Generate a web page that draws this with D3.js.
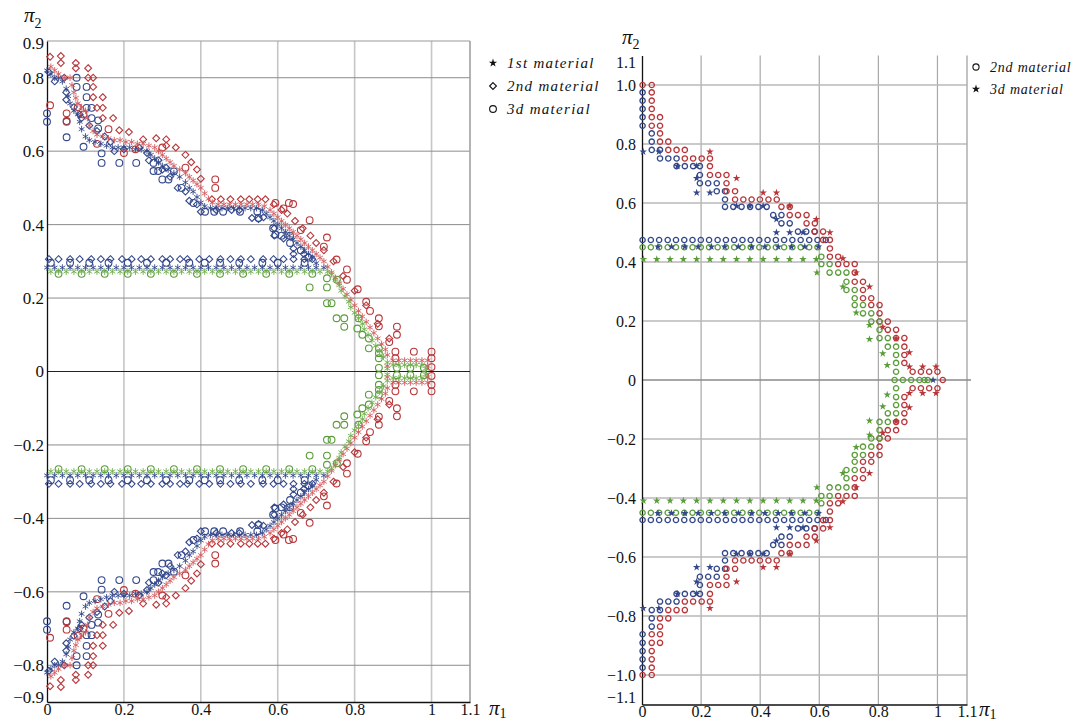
<!DOCTYPE html>
<html lang="en">
<head>
<meta charset="UTF-8">
<title>π1 – π2 domains, three materials</title>
<script src="https://d3js.org/d3.v7.min.js"></script>
<style>
  body { margin: 0; background: #fff; }
  text { font-family: "Liberation Serif", "DejaVu Serif", serif; fill: #111; }
</style>
</head>
<body>
<div id="chart"></div>
<script>
// ---------- tick labels ----------
const xTicks = [0, 0.2, 0.4, 0.6, 0.8, 1, 1.1];
const xLabels = ["0", "0.2", "0.4", "0.6", "0.8", "1", "1.1"];
const leftYTicks = [-0.9, -0.8, -0.6, -0.4, -0.2, 0, 0.2, 0.4, 0.6, 0.8, 0.9];
const leftYLabels = ["−0.9", "−0.8", "−0.6", "−0.4", "−0.2", "0", "0.2", "0.4", "0.6", "0.8", "0.9"];
const rightYTicks = [-1.1, -1, -0.8, -0.6, -0.4, -0.2, 0, 0.2, 0.4, 0.6, 0.8, 1, 1.1];
const rightYLabels = ["−1.1", "−1.0", "−0.8", "−0.6", "−0.4", "−0.2", "0", "0.2", "0.4", "0.6", "0.8", "1.0", "1.1"];

const leftLegend = ["1st material", "2nd material", "3d material"];
const rightLegend = ["2nd material", "3d material"];

// ---------- left panel values (π1, π2) ----------
const row = (y, xs) => xs.map(x => [x, y]);

const leftStarRowX = [0, 0.02, 0.04, 0.06, 0.08, 0.1, 0.12, 0.14, 0.16, 0.18, 0.2, 0.22, 0.24, 0.26, 0.28, 0.3, 0.32, 0.34, 0.36, 0.38, 0.4, 0.42, 0.44, 0.46, 0.48, 0.5, 0.52, 0.54, 0.56, 0.58, 0.6, 0.62, 0.64, 0.66, 0.68, 0.7, 0.72];
const leftGreenStarRowX = [0.01, 0.03, 0.05, 0.07, 0.09, 0.11, 0.13, 0.15, 0.17, 0.19, 0.21, 0.23, 0.25, 0.27, 0.29, 0.31, 0.33, 0.35, 0.37, 0.39, 0.41, 0.43, 0.45, 0.47, 0.49, 0.51, 0.53, 0.55, 0.57, 0.59, 0.61, 0.63, 0.65, 0.67, 0.69, 0.71, 0.73];
const leftDiamondRowX = [0.005, 0.03, 0.06, 0.085, 0.115, 0.14, 0.165, 0.195, 0.22, 0.245, 0.27, 0.3, 0.32, 0.346, 0.365, 0.396, 0.422, 0.451, 0.477, 0.504, 0.53, 0.562, 0.589, 0.615, 0.641, 0.669, 0.69];
const leftCircleRowX = [0.01, 0.06, 0.11, 0.16, 0.21, 0.26, 0.31, 0.37, 0.41, 0.45, 0.5, 0.56, 0.6, 0.67];
const leftGreenCircleRowX = [0.03, 0.09, 0.15, 0.21, 0.27, 0.33, 0.39, 0.45, 0.51, 0.57, 0.63, 0.69];
const leftRedStarZeroX = [0.9, 0.915, 0.93, 0.945, 0.96, 0.975, 0.99];
const leftGreenStarZeroX = [0.9, 0.915, 0.93, 0.945, 0.96, 0.975];
const leftGreenCircleZeroX = [0.863, 0.91, 0.945, 0.98];

const leftBlueStarUp = [[0,0.82],[0.01,0.81],[0.02,0.8],[0.03,0.8],[0.04,0.79],[0.05,0.77],[0.055,0.75],[0.06,0.73],[0.07,0.71],[0.08,0.7],[0.085,0.68],[0.09,0.66],[0.1,0.64],[0.11,0.63],[0.125,0.625],[0.14,0.62],[0.155,0.615],[0.17,0.61],[0.185,0.61],[0.2,0.61],[0.215,0.61],[0.23,0.605],[0.245,0.605],[0.26,0.6],[0.27,0.59],[0.28,0.58],[0.29,0.57],[0.3,0.56],[0.315,0.55],[0.33,0.54],[0.345,0.53],[0.36,0.515],[0.37,0.5],[0.38,0.49],[0.39,0.475],[0.4,0.46],[0.41,0.45],[0.425,0.445],[0.44,0.445],[0.455,0.445],[0.47,0.445],[0.485,0.445],[0.5,0.445],[0.515,0.445],[0.53,0.445],[0.545,0.445],[0.56,0.44],[0.57,0.43],[0.58,0.42],[0.59,0.41],[0.6,0.4],[0.61,0.39],[0.62,0.38],[0.63,0.37],[0.64,0.36],[0.65,0.35],[0.66,0.34],[0.67,0.33],[0.68,0.32],[0.69,0.31],[0.7,0.295]];
const leftBlueStarDown = [[0,-0.82],[0.01,-0.81],[0.02,-0.8],[0.03,-0.8],[0.04,-0.79],[0.05,-0.77],[0.055,-0.75],[0.06,-0.73],[0.07,-0.71],[0.08,-0.7],[0.085,-0.68],[0.09,-0.66],[0.1,-0.64],[0.11,-0.63],[0.125,-0.625],[0.14,-0.62],[0.155,-0.615],[0.17,-0.61],[0.185,-0.61],[0.2,-0.61],[0.215,-0.61],[0.23,-0.605],[0.245,-0.605],[0.26,-0.6],[0.27,-0.59],[0.28,-0.58],[0.29,-0.57],[0.3,-0.56],[0.315,-0.55],[0.33,-0.54],[0.345,-0.53],[0.36,-0.515],[0.37,-0.5],[0.38,-0.49],[0.39,-0.475],[0.4,-0.46],[0.41,-0.45],[0.425,-0.445],[0.44,-0.445],[0.455,-0.445],[0.47,-0.445],[0.485,-0.445],[0.5,-0.445],[0.515,-0.445],[0.53,-0.445],[0.545,-0.445],[0.56,-0.44],[0.57,-0.43],[0.58,-0.42],[0.59,-0.41],[0.6,-0.4],[0.61,-0.39],[0.62,-0.38],[0.63,-0.37],[0.64,-0.36],[0.65,-0.35],[0.66,-0.34],[0.67,-0.33],[0.68,-0.32],[0.69,-0.31],[0.7,-0.295]];

const leftRedStarUp = [[0.01,0.83],[0.02,0.82],[0.03,0.81],[0.045,0.8],[0.06,0.8],[0.065,0.78],[0.07,0.76],[0.075,0.745],[0.08,0.73],[0.09,0.72],[0.1,0.71],[0.105,0.69],[0.11,0.67],[0.12,0.655],[0.13,0.645],[0.145,0.64],[0.16,0.635],[0.175,0.63],[0.19,0.63],[0.205,0.625],[0.22,0.625],[0.235,0.62],[0.25,0.62],[0.265,0.615],[0.28,0.61],[0.29,0.6],[0.3,0.59],[0.31,0.58],[0.32,0.57],[0.33,0.56],[0.345,0.55],[0.36,0.54],[0.37,0.53],[0.38,0.52],[0.39,0.51],[0.4,0.5],[0.41,0.485],[0.42,0.47],[0.43,0.46],[0.445,0.455],[0.46,0.455],[0.475,0.455],[0.49,0.455],[0.505,0.455],[0.52,0.455],[0.535,0.455],[0.55,0.455],[0.565,0.45],[0.58,0.44],[0.59,0.43],[0.6,0.42],[0.61,0.41],[0.62,0.4],[0.63,0.39],[0.64,0.38],[0.65,0.37],[0.66,0.36],[0.67,0.35],[0.68,0.34],[0.69,0.33],[0.7,0.32],[0.71,0.31],[0.72,0.3],[0.73,0.285],[0.74,0.27],[0.75,0.255],[0.76,0.24],[0.77,0.225],[0.78,0.21],[0.79,0.195],[0.8,0.18],[0.81,0.165],[0.82,0.15],[0.83,0.135],[0.84,0.12],[0.85,0.105],[0.86,0.09],[0.87,0.075],[0.88,0.06],[0.885,0.045],[0.885,0.015],[0.99,0.015]];
const leftRedStarDown = [[0.01,-0.83],[0.02,-0.82],[0.03,-0.81],[0.045,-0.8],[0.06,-0.8],[0.065,-0.78],[0.07,-0.76],[0.075,-0.745],[0.08,-0.73],[0.09,-0.72],[0.1,-0.71],[0.105,-0.69],[0.11,-0.67],[0.12,-0.655],[0.13,-0.645],[0.145,-0.64],[0.16,-0.635],[0.175,-0.63],[0.19,-0.63],[0.205,-0.625],[0.22,-0.625],[0.235,-0.62],[0.25,-0.62],[0.265,-0.615],[0.28,-0.61],[0.29,-0.6],[0.3,-0.59],[0.31,-0.58],[0.32,-0.57],[0.33,-0.56],[0.345,-0.55],[0.36,-0.54],[0.37,-0.53],[0.38,-0.52],[0.39,-0.51],[0.4,-0.5],[0.41,-0.485],[0.42,-0.47],[0.43,-0.46],[0.445,-0.455],[0.46,-0.455],[0.475,-0.455],[0.49,-0.455],[0.505,-0.455],[0.52,-0.455],[0.535,-0.455],[0.55,-0.455],[0.565,-0.45],[0.58,-0.44],[0.59,-0.43],[0.6,-0.42],[0.61,-0.41],[0.62,-0.4],[0.63,-0.39],[0.64,-0.38],[0.65,-0.37],[0.66,-0.36],[0.67,-0.35],[0.68,-0.34],[0.69,-0.33],[0.7,-0.32],[0.71,-0.31],[0.72,-0.3],[0.73,-0.285],[0.74,-0.27],[0.75,-0.255],[0.76,-0.24],[0.77,-0.225],[0.78,-0.21],[0.79,-0.195],[0.8,-0.18],[0.81,-0.165],[0.82,-0.15],[0.83,-0.135],[0.84,-0.12],[0.85,-0.105],[0.86,-0.09],[0.87,-0.075],[0.88,-0.06],[0.885,-0.045],[0.885,-0.015],[0.99,-0.015]];

const leftGreenStarUp = [[0.74,0.265],[0.75,0.25],[0.76,0.235],[0.765,0.22],[0.775,0.205],[0.785,0.19],[0.79,0.175],[0.8,0.16],[0.81,0.145],[0.82,0.13],[0.825,0.115],[0.835,0.1],[0.845,0.085],[0.855,0.07],[0.865,0.055],[0.875,0.04],[0.885,0.025],[0.885,0.008],[0.985,0.008]];
const leftGreenStarDown = [[0.74,-0.265],[0.75,-0.25],[0.76,-0.235],[0.765,-0.22],[0.775,-0.205],[0.785,-0.19],[0.79,-0.175],[0.8,-0.16],[0.81,-0.145],[0.82,-0.13],[0.825,-0.115],[0.835,-0.1],[0.845,-0.085],[0.855,-0.07],[0.865,-0.055],[0.875,-0.04],[0.885,-0.025],[0.885,-0.008],[0.985,-0.008]];

const leftBlueDiamondUp = [[0.005,0.815],[0.02,0.79],[0.045,0.8],[0.05,0.76],[0.05,0.74],[0.07,0.72],[0.085,0.7],[0.09,0.69],[0.11,0.67],[0.13,0.655],[0.15,0.64],[0.165,0.625],[0.175,0.6],[0.2,0.605],[0.24,0.61],[0.26,0.595],[0.265,0.575],[0.29,0.575],[0.3,0.55],[0.31,0.555],[0.32,0.53],[0.34,0.5],[0.36,0.49],[0.37,0.465],[0.39,0.455],[0.4,0.435],[0.44,0.44],[0.48,0.44],[0.5,0.44],[0.533,0.418],[0.55,0.415],[0.563,0.42],[0.591,0.39],[0.591,0.37],[0.615,0.362],[0.641,0.335],[0.641,0.32],[0.668,0.32]];
const leftBlueDiamondDown = [[0.005,-0.815],[0.02,-0.79],[0.045,-0.8],[0.05,-0.76],[0.05,-0.74],[0.07,-0.72],[0.085,-0.7],[0.09,-0.69],[0.11,-0.67],[0.13,-0.655],[0.15,-0.64],[0.165,-0.625],[0.175,-0.6],[0.2,-0.605],[0.24,-0.61],[0.26,-0.595],[0.265,-0.575],[0.29,-0.575],[0.3,-0.55],[0.31,-0.555],[0.32,-0.53],[0.34,-0.5],[0.36,-0.49],[0.37,-0.465],[0.39,-0.455],[0.4,-0.435],[0.44,-0.44],[0.48,-0.44],[0.5,-0.44],[0.533,-0.418],[0.55,-0.415],[0.563,-0.42],[0.591,-0.39],[0.591,-0.37],[0.615,-0.362],[0.641,-0.335],[0.641,-0.32],[0.668,-0.32]];

const leftBlueCircleUp = [[0,0.703],[0,0.68],[0.051,0.682],[0.051,0.638],[0.077,0.8],[0.077,0.775],[0.103,0.775],[0.103,0.747],[0.103,0.718],[0.116,0.718],[0.116,0.69],[0.133,0.684],[0.133,0.662],[0.095,0.612],[0.142,0.594],[0.142,0.568],[0.188,0.568],[0.232,0.568],[0.277,0.568],[0.277,0.546],[0.289,0.546],[0.3,0.523],[0.316,0.523],[0.33,0.545],[0.35,0.5],[0.381,0.459],[0.411,0.435],[0.435,0.435],[0.458,0.435],[0.502,0.435],[0.547,0.435],[0.55,0.418],[0.588,0.39],[0.594,0.373],[0.61,0.37],[0.632,0.37],[0.632,0.35],[0.66,0.33],[0.68,0.31]];
const leftBlueCircleDown = [[0,-0.703],[0,-0.68],[0.051,-0.682],[0.051,-0.638],[0.077,-0.8],[0.077,-0.775],[0.103,-0.775],[0.103,-0.747],[0.103,-0.718],[0.116,-0.718],[0.116,-0.69],[0.133,-0.684],[0.133,-0.662],[0.095,-0.612],[0.142,-0.594],[0.142,-0.568],[0.188,-0.568],[0.232,-0.568],[0.277,-0.568],[0.277,-0.546],[0.289,-0.546],[0.3,-0.523],[0.316,-0.523],[0.33,-0.545],[0.35,-0.5],[0.381,-0.459],[0.411,-0.435],[0.435,-0.435],[0.458,-0.435],[0.502,-0.435],[0.547,-0.435],[0.55,-0.418],[0.588,-0.39],[0.594,-0.373],[0.61,-0.37],[0.632,-0.37],[0.632,-0.35],[0.66,-0.33],[0.68,-0.31]];

const leftRedDiamondUp = [[0.008,0.857],[0.036,0.859],[0.036,0.84],[0.075,0.84],[0.075,0.826],[0.107,0.826],[0.107,0.8],[0.12,0.8],[0.12,0.775],[0.12,0.747],[0.145,0.747],[0.145,0.718],[0.13,0.718],[0.145,0.69],[0.172,0.69],[0.188,0.657],[0.213,0.652],[0.25,0.632],[0.284,0.635],[0.31,0.632],[0.31,0.615],[0.335,0.61],[0.36,0.59],[0.375,0.57],[0.39,0.55],[0.4,0.525],[0.429,0.469],[0.452,0.469],[0.477,0.469],[0.504,0.469],[0.526,0.469],[0.548,0.469],[0.568,0.469],[0.59,0.455],[0.61,0.44],[0.625,0.43],[0.645,0.41],[0.665,0.39],[0.685,0.37],[0.7,0.35],[0.72,0.33],[0.745,0.3],[0.77,0.26],[0.8,0.22],[0.83,0.18],[0.86,0.13],[0.89,0.09]];
const leftRedDiamondDown = [[0.008,-0.857],[0.036,-0.859],[0.036,-0.84],[0.075,-0.84],[0.075,-0.826],[0.107,-0.826],[0.107,-0.8],[0.12,-0.8],[0.12,-0.775],[0.12,-0.747],[0.145,-0.747],[0.145,-0.718],[0.13,-0.718],[0.145,-0.69],[0.172,-0.69],[0.188,-0.657],[0.213,-0.652],[0.25,-0.632],[0.284,-0.635],[0.31,-0.632],[0.31,-0.615],[0.335,-0.61],[0.36,-0.59],[0.375,-0.57],[0.39,-0.55],[0.4,-0.525],[0.429,-0.469],[0.452,-0.469],[0.477,-0.469],[0.504,-0.469],[0.526,-0.469],[0.548,-0.469],[0.568,-0.469],[0.59,-0.455],[0.61,-0.44],[0.625,-0.43],[0.645,-0.41],[0.665,-0.39],[0.685,-0.37],[0.7,-0.35],[0.72,-0.33],[0.745,-0.3],[0.77,-0.26],[0.8,-0.22],[0.83,-0.18],[0.86,-0.13],[0.89,-0.09]];

const leftRedCircleUp = [[0.008,0.725],[0.051,0.703],[0.051,0.68],[0.08,0.72],[0.095,0.7],[0.16,0.66],[0.13,0.62],[0.2,0.595],[0.23,0.605],[0.3,0.61],[0.36,0.555],[0.4375,0.523],[0.4375,0.5],[0.594,0.459],[0.629,0.459],[0.615,0.444],[0.64,0.456],[0.683,0.412],[0.66,0.385],[0.728,0.365],[0.72,0.34],[0.753,0.305],[0.78,0.278],[0.78,0.25],[0.808,0.224],[0.83,0.19],[0.84,0.165],[0.863,0.145],[0.863,0.123],[0.91,0.122],[0.91,0.1],[0.89,0.08],[0.906,0.054],[0.954,0.054],[1.0,0.054],[0.906,0.036],[1.0,0.036],[1.0,0.012]];
const leftRedCircleDown = [[0.008,-0.725],[0.051,-0.703],[0.051,-0.68],[0.08,-0.72],[0.095,-0.7],[0.16,-0.66],[0.13,-0.62],[0.2,-0.595],[0.23,-0.605],[0.3,-0.61],[0.36,-0.555],[0.4375,-0.523],[0.4375,-0.5],[0.594,-0.459],[0.629,-0.459],[0.615,-0.444],[0.64,-0.456],[0.683,-0.412],[0.66,-0.385],[0.728,-0.365],[0.72,-0.34],[0.753,-0.305],[0.78,-0.278],[0.78,-0.25],[0.808,-0.224],[0.83,-0.19],[0.84,-0.165],[0.863,-0.145],[0.863,-0.123],[0.91,-0.122],[0.91,-0.1],[0.89,-0.08],[0.906,-0.054],[0.954,-0.054],[1.0,-0.054],[0.906,-0.036],[1.0,-0.036],[1.0,-0.012]];

const leftGreenCircleUp = [[0.683,0.229],[0.728,0.254],[0.754,0.25],[0.728,0.229],[0.728,0.186],[0.74,0.186],[0.753,0.145],[0.773,0.145],[0.773,0.122],[0.81,0.145],[0.807,0.117],[0.82,0.1],[0.837,0.09],[0.837,0.063],[0.863,0.063],[0.863,0.05],[0.863,0.036]];
const leftGreenCircleDown = [[0.683,-0.229],[0.728,-0.254],[0.754,-0.25],[0.728,-0.229],[0.728,-0.186],[0.74,-0.186],[0.753,-0.145],[0.773,-0.145],[0.773,-0.122],[0.81,-0.145],[0.807,-0.117],[0.82,-0.1],[0.837,-0.09],[0.837,-0.063],[0.863,-0.063],[0.863,-0.05],[0.863,-0.036]];

// ---------- right panel values (π1, π2) ----------
const rightBlueCircleRowX = [0.002, 0.03, 0.058, 0.087, 0.115, 0.143, 0.171, 0.199, 0.227, 0.256, 0.284, 0.312, 0.34, 0.368, 0.397, 0.425, 0.453, 0.481, 0.509, 0.537, 0.566, 0.594, 0.622];
const rightGreenCircleRowX = [0.002, 0.03, 0.058, 0.087, 0.115, 0.143, 0.171, 0.199, 0.227, 0.256, 0.284, 0.312, 0.34, 0.368, 0.397, 0.425, 0.453, 0.481, 0.509, 0.537, 0.566, 0.594];
const rightBlueStarRowX = [0.054, 0.1, 0.145, 0.19, 0.235, 0.28, 0.326, 0.371, 0.416, 0.461, 0.506, 0.551, 0.597];
const rightGreenStarRowX = [0.005, 0.05, 0.095, 0.14, 0.185, 0.23, 0.275, 0.32, 0.365, 0.41, 0.455, 0.5, 0.545, 0.59];
const rightGreenZeroX = [0.855, 0.883, 0.911, 0.939, 0.956, 0.967];

const rightBlueCircleUp = [[0.002,0.975],[0.002,0.947],[0.002,0.919],[0.002,0.891],[0.002,0.862],[0.033,0.836],[0.033,0.808],[0.033,0.78],[0.061,0.78],[0.061,0.751],[0.089,0.751],[0.117,0.751],[0.117,0.725],[0.145,0.725],[0.173,0.725],[0.196,0.725],[0.196,0.695],[0.196,0.667],[0.224,0.667],[0.253,0.667],[0.253,0.64],[0.281,0.64],[0.281,0.612],[0.281,0.587],[0.309,0.587],[0.337,0.587],[0.366,0.587],[0.394,0.587],[0.422,0.587],[0.444,0.559],[0.472,0.559],[0.472,0.531],[0.5,0.531],[0.528,0.503],[0.556,0.503],[0.584,0.503]];
const rightBlueCircleDown = [[0.002,-0.975],[0.002,-0.947],[0.002,-0.919],[0.002,-0.891],[0.002,-0.862],[0.033,-0.836],[0.033,-0.808],[0.033,-0.78],[0.061,-0.78],[0.061,-0.751],[0.089,-0.751],[0.117,-0.751],[0.117,-0.725],[0.145,-0.725],[0.173,-0.725],[0.196,-0.725],[0.196,-0.695],[0.196,-0.667],[0.224,-0.667],[0.253,-0.667],[0.253,-0.64],[0.281,-0.64],[0.281,-0.612],[0.281,-0.587],[0.309,-0.587],[0.337,-0.587],[0.366,-0.587],[0.394,-0.587],[0.422,-0.587],[0.444,-0.559],[0.472,-0.559],[0.472,-0.531],[0.5,-0.531],[0.528,-0.503],[0.556,-0.503],[0.584,-0.503]];

const rightRedCircleUp = [[0.002,1.0],[0.033,1.0],[0.033,0.975],[0.033,0.947],[0.033,0.919],[0.033,0.891],[0.033,0.862],[0.061,0.891],[0.061,0.862],[0.061,0.836],[0.061,0.808],[0.089,0.808],[0.089,0.78],[0.117,0.78],[0.145,0.78],[0.145,0.751],[0.173,0.751],[0.202,0.751],[0.23,0.751],[0.23,0.725],[0.23,0.695],[0.258,0.695],[0.286,0.695],[0.286,0.667],[0.286,0.64],[0.315,0.64],[0.315,0.612],[0.343,0.612],[0.371,0.612],[0.399,0.612],[0.428,0.612],[0.456,0.612],[0.472,0.587],[0.5,0.587],[0.5,0.559],[0.528,0.559],[0.557,0.559],[0.557,0.531],[0.585,0.531],[0.585,0.503],[0.613,0.503],[0.613,0.475],[0.636,0.475],[0.636,0.446],[0.636,0.418],[0.664,0.418],[0.664,0.393],[0.692,0.393],[0.72,0.393],[0.72,0.364],[0.72,0.333],[0.748,0.333],[0.748,0.305],[0.748,0.277],[0.776,0.277],[0.776,0.254],[0.804,0.254],[0.804,0.226],[0.804,0.198],[0.832,0.198],[0.832,0.17],[0.86,0.17],[0.86,0.142],[0.888,0.142],[0.888,0.113],[0.888,0.085],[0.888,0.058],[0.916,0.028],[0.944,0.028],[0.972,0.028],[1.0,0.028],[1.018,0]];
const rightRedCircleDown = [[0.002,-1.0],[0.033,-1.0],[0.033,-0.975],[0.033,-0.947],[0.033,-0.919],[0.033,-0.891],[0.033,-0.862],[0.061,-0.891],[0.061,-0.862],[0.061,-0.836],[0.061,-0.808],[0.089,-0.808],[0.089,-0.78],[0.117,-0.78],[0.145,-0.78],[0.145,-0.751],[0.173,-0.751],[0.202,-0.751],[0.23,-0.751],[0.23,-0.725],[0.23,-0.695],[0.258,-0.695],[0.286,-0.695],[0.286,-0.667],[0.286,-0.64],[0.315,-0.64],[0.315,-0.612],[0.343,-0.612],[0.371,-0.612],[0.399,-0.612],[0.428,-0.612],[0.456,-0.612],[0.472,-0.587],[0.5,-0.587],[0.5,-0.559],[0.528,-0.559],[0.557,-0.559],[0.557,-0.531],[0.585,-0.531],[0.585,-0.503],[0.613,-0.503],[0.613,-0.475],[0.636,-0.475],[0.636,-0.446],[0.636,-0.418],[0.664,-0.418],[0.664,-0.393],[0.692,-0.393],[0.72,-0.393],[0.72,-0.364],[0.72,-0.333],[0.748,-0.333],[0.748,-0.305],[0.748,-0.277],[0.776,-0.277],[0.776,-0.254],[0.804,-0.254],[0.804,-0.226],[0.804,-0.198],[0.832,-0.198],[0.832,-0.17],[0.86,-0.17],[0.86,-0.142],[0.888,-0.142],[0.888,-0.113],[0.888,-0.085],[0.888,-0.058],[0.916,-0.028],[0.944,-0.028],[0.972,-0.028],[1.0,-0.028]];

const rightGreenCircleUp = [[0.607,0.418],[0.607,0.393],[0.635,0.393],[0.635,0.364],[0.664,0.364],[0.692,0.364],[0.692,0.333],[0.692,0.305],[0.72,0.305],[0.72,0.277],[0.72,0.254],[0.748,0.254],[0.748,0.226],[0.776,0.226],[0.776,0.198],[0.804,0.198],[0.804,0.17],[0.804,0.142],[0.832,0.142],[0.832,0.113],[0.86,0.113],[0.86,0.085],[0.86,0.058],[0.86,0.028]];
const rightGreenCircleDown = [[0.607,-0.418],[0.607,-0.393],[0.635,-0.393],[0.635,-0.364],[0.664,-0.364],[0.692,-0.364],[0.692,-0.333],[0.692,-0.305],[0.72,-0.305],[0.72,-0.277],[0.72,-0.254],[0.748,-0.254],[0.748,-0.226],[0.776,-0.226],[0.776,-0.198],[0.804,-0.198],[0.804,-0.17],[0.804,-0.142],[0.832,-0.142],[0.832,-0.113],[0.86,-0.113],[0.86,-0.085],[0.86,-0.058],[0.86,-0.028]];

const rightGreenStarUp = [[0.592,0.364],[0.68,0.316],[0.725,0.228],[0.77,0.186],[0.77,0.138],[0.815,0.09],[0.83,0.05]];
const rightGreenStarDown = [[0.592,-0.364],[0.68,-0.316],[0.725,-0.228],[0.77,-0.186],[0.77,-0.138],[0.815,-0.09],[0.83,-0.05]];
const rightBlueStarUp = [[0.004,0.774],[0.057,0.774],[0.12,0.725],[0.185,0.725],[0.185,0.684],[0.185,0.635],[0.23,0.635],[0.32,0.59],[0.365,0.59],[0.41,0.59],[0.455,0.545],[0.455,0.5],[0.5,0.5],[0.545,0.5],[0.985,0]];
const rightBlueStarDown = [[0.004,-0.774],[0.057,-0.774],[0.12,-0.725],[0.185,-0.725],[0.185,-0.684],[0.185,-0.635],[0.23,-0.635],[0.32,-0.59],[0.365,-0.59],[0.41,-0.59],[0.455,-0.545],[0.455,-0.5],[0.5,-0.5],[0.545,-0.5]];
const rightRedStarUp = [[0.23,0.774],[0.32,0.684],[0.41,0.635],[0.455,0.635],[0.5,0.59],[0.59,0.545],[0.636,0.5],[0.68,0.412],[0.725,0.364],[0.77,0.316],[0.815,0.18],[0.86,0.141],[0.905,0.093],[0.905,0.045],[0.95,0.045],[0.995,0.045]];
const rightRedStarDown = [[0.23,-0.774],[0.32,-0.684],[0.41,-0.635],[0.455,-0.635],[0.5,-0.59],[0.59,-0.545],[0.636,-0.5],[0.68,-0.412],[0.725,-0.364],[0.77,-0.316],[0.815,-0.18],[0.86,-0.141],[0.905,-0.093],[0.905,-0.045],[0.95,-0.045],[0.995,-0.045]];

// ---------- styles ----------
const blue = "#33478a", red = "#b8363a", green = "#5a9c3a";
const redLight = "#d25a5e", greenLight = "#6eae4c";
const serif = '"Liberation Serif", "DejaVu Serif", serif';

const shapes = {
  lStar:    { d: d3.symbol(d3.symbolAsterisk || d3.symbolCross, 30)(), fill: false, sw: 0.9 },
  lDiamond: { d: d3.symbol(d3.symbolDiamond2 || d3.symbolDiamond, 30)(), fill: false, sw: 1.1 },
  lCircle:  { d: d3.symbol(d3.symbolCircle, 36)(), fill: false, sw: 1.1 },
  rCircle:  { d: d3.symbol(d3.symbolCircle, 22)(), fill: false, sw: 1.3 },
  rStar:    { d: d3.symbol(d3.symbolStar, 18)(), fill: true, sw: 0 }
};

const svg = d3.select("#chart").append("svg")
  .attr("width", 1084).attr("height", 722)
  .style("display", "block");

function drawPoints(g, pts, x, y, shape, color) {
  g.append("g").selectAll("path").data(pts).join("path")
    .attr("transform", d => `translate(${x(d[0])},${y(d[1])})`)
    .attr("d", shape.d)
    .attr("fill", shape.fill ? color : "none")
    .attr("stroke", shape.fill ? "none" : color)
    .attr("stroke-width", shape.sw);
}

function piLabel(g, xPos, yPos, sub, subDy) {
  const t = g.append("text").attr("x", xPos).attr("y", yPos)
    .style("font-style", "italic").style("font-size", "21px");
  t.append("tspan").text("π");
  t.append("tspan").attr("dy", subDy).style("font-size", "14px").style("font-style", "normal").text(sub);
}

// nudge the end labels inward, as in the source figure
function styleAxis(a, size, nudge) {
  a.attr("font-family", serif);
  a.select(".domain").attr("stroke", "#111").attr("stroke-width", 1.3);
  a.selectAll("text").style("font-size", size).attr("fill", "#111").style("font-family", serif);
  if (nudge) a.selectAll(".tick").each(function (d) {
    if (nudge[d] !== undefined) d3.select(this).select("text").attr("transform", `translate(0,${nudge[d]})`);
  });
}

// ================= LEFT PANEL =================
const xL = d3.scaleLinear().domain([0, 1.1]).range([47, 470]);
const yL = d3.scaleLinear().domain([-0.9, 0.9]).range([702, 41]);
const gL = svg.append("g");

gL.selectAll("line.v").data([0.2, 0.4, 0.6, 0.8, 1]).join("line")
  .attr("x1", d => xL(d)).attr("x2", d => xL(d)).attr("y1", yL(0.9)).attr("y2", yL(-0.9))
  .attr("stroke", "#c6c6c6").attr("stroke-width", 1.6);
gL.selectAll("line.h").data([-0.8, -0.6, -0.4, -0.2, 0.2, 0.4, 0.6, 0.8]).join("line")
  .attr("x1", xL(0)).attr("x2", xL(1.1)).attr("y1", d => yL(d)).attr("y2", d => yL(d))
  .attr("stroke", "#8c8c8c").attr("stroke-width", 1);
gL.append("line").attr("x1", xL(0)).attr("x2", xL(1.1)).attr("y1", yL(0.9)).attr("y2", yL(0.9))
  .attr("stroke", "#9a9a9a").attr("stroke-width", 1.2);
gL.append("line").attr("x1", xL(1.1)).attr("x2", xL(1.1)).attr("y1", yL(0.9)).attr("y2", yL(-0.9))
  .attr("stroke", "#a0a0a0").attr("stroke-width", 1.6);
gL.append("line").attr("x1", xL(0)).attr("x2", xL(1.1)).attr("y1", yL(0)).attr("y2", yL(0))
  .attr("stroke", "#222").attr("stroke-width", 1.2);

const axL = gL.append("g").attr("transform", `translate(${xL(0)},0)`)
  .call(d3.axisLeft(yL).tickValues(leftYTicks).tickFormat((d, i) => leftYLabels[i]).tickSize(0).tickPadding(3).tickSizeOuter(0));
const axLb = gL.append("g").attr("transform", `translate(0,${yL(-0.9)})`)
  .call(d3.axisBottom(xL).tickValues(xTicks).tickFormat((d, i) => xLabels[i]).tickSize(0).tickPadding(2).tickSizeOuter(0));
styleAxis(axL, "17px", { "0.9": 2, "-0.9": -5 });
styleAxis(axLb, "16px");

const leftSeries = [
  [leftBlueCircleUp.concat(row(0.296, leftCircleRowX)), shapes.lCircle, blue],
  [leftBlueCircleDown.concat(row(-0.296, leftCircleRowX)), shapes.lCircle, blue],
  [leftBlueDiamondUp.concat(row(0.306, leftDiamondRowX)), shapes.lDiamond, blue],
  [leftBlueDiamondDown.concat(row(-0.306, leftDiamondRowX)), shapes.lDiamond, blue],
  [leftRedCircleUp, shapes.lCircle, red],
  [leftRedCircleDown, shapes.lCircle, red],
  [leftRedDiamondUp, shapes.lDiamond, red],
  [leftRedDiamondDown, shapes.lDiamond, red],
  [leftGreenCircleUp.concat(row(0.266, leftGreenCircleRowX), row(0.01, leftGreenCircleZeroX)), shapes.lCircle, green],
  [leftGreenCircleDown.concat(row(-0.266, leftGreenCircleRowX), row(-0.01, leftGreenCircleZeroX)), shapes.lCircle, green],
  [leftBlueStarUp.concat(row(0.283, leftStarRowX)), shapes.lStar, blue],
  [leftBlueStarDown.concat(row(-0.283, leftStarRowX)), shapes.lStar, blue],
  [leftRedStarUp.concat(row(0.03, leftRedStarZeroX)), shapes.lStar, redLight],
  [leftRedStarDown.concat(row(-0.03, leftRedStarZeroX)), shapes.lStar, redLight],
  [leftGreenStarUp.concat(row(0.272, leftGreenStarRowX), row(0.018, leftGreenStarZeroX)), shapes.lStar, greenLight],
  [leftGreenStarDown.concat(row(-0.272, leftGreenStarRowX), row(-0.018, leftGreenStarZeroX)), shapes.lStar, greenLight]
];
leftSeries.forEach(([pts, shape, color]) => drawPoints(gL, pts, xL, yL, shape, color));

piLabel(svg, 24, 22, "2", 6);
piLabel(svg, 489, 715, "1", 3);

const legL = svg.append("g").attr("transform", "translate(493,63)");
[shapes.lStar, shapes.lDiamond, shapes.lCircle].forEach((s, i) => {
  legL.append("path").attr("transform", `translate(0,${i * 23})`)
    .attr("d", i === 0 ? d3.symbol(d3.symbolStar, 22)() : s.d)
    .attr("fill", i === 0 ? "#111" : "none").attr("stroke", i === 0 ? "none" : "#111").attr("stroke-width", 1.1);
  legL.append("text").attr("x", 14).attr("y", i * 23 + 5)
    .style("font-style", "italic").style("font-size", "15px").style("letter-spacing", "1.3px")
    .text(leftLegend[i]);
});

// ================= RIGHT PANEL =================
const xR = d3.scaleLinear().domain([0, 1.1]).range([642, 967]);
const yR = d3.scaleLinear().domain([-1.1, 1.1]).range([704.5, 55.5]);
const gR = svg.append("g");

gR.selectAll("line.v").data([0.2, 0.4, 0.6, 0.8, 1]).join("line")
  .attr("x1", d => xR(d)).attr("x2", d => xR(d)).attr("y1", yR(1.1)).attr("y2", yR(-1.1))
  .attr("stroke", "#a8a8a8").attr("stroke-width", 1.2);
gR.selectAll("line.h").data([-1, -0.8, -0.6, -0.4, -0.2, 0.2, 0.4, 0.6, 0.8, 1]).join("line")
  .attr("x1", xR(0)).attr("x2", xR(1.1)).attr("y1", d => yR(d)).attr("y2", d => yR(d))
  .attr("stroke", "#b8b8b8").attr("stroke-width", 1.4);
gR.append("line").attr("x1", xR(1.1)).attr("x2", xR(1.1)).attr("y1", yR(1.1)).attr("y2", yR(-1.1))
  .attr("stroke", "#a8a8a8").attr("stroke-width", 1.4);
gR.append("line").attr("x1", xR(0)).attr("x2", xR(1.1) + 4).attr("y1", yR(0)).attr("y2", yR(0))
  .attr("stroke", "#8a8a8a").attr("stroke-width", 1.3);

const axR = gR.append("g").attr("transform", `translate(${xR(0)},0)`)
  .call(d3.axisLeft(yR).tickValues(rightYTicks).tickFormat((d, i) => rightYLabels[i]).tickSize(0).tickPadding(6).tickSizeOuter(0));
const axRb = gR.append("g").attr("transform", `translate(0,${yR(-1.1)})`)
  .call(d3.axisBottom(xR).tickValues(xTicks).tickFormat((d, i) => xLabels[i]).tickSize(0).tickPadding(1).tickSizeOuter(0));
styleAxis(axR, "16px", { "1.1": 7, "-1.1": -7 });
styleAxis(axRb, "16px");

const rightSeries = [
  [rightBlueCircleUp.concat(row(0.4746, rightBlueCircleRowX)), shapes.rCircle, blue],
  [rightBlueCircleDown.concat(row(-0.4746, rightBlueCircleRowX)), shapes.rCircle, blue],
  [rightRedCircleUp, shapes.rCircle, red],
  [rightRedCircleDown, shapes.rCircle, red],
  [rightGreenCircleUp.concat(row(0.45, rightGreenCircleRowX), row(0, rightGreenZeroX)), shapes.rCircle, green],
  [rightGreenCircleDown.concat(row(-0.45, rightGreenCircleRowX)), shapes.rCircle, green],
  [rightBlueStarUp.concat(row(0.452, rightBlueStarRowX)), shapes.rStar, blue],
  [rightBlueStarDown.concat(row(-0.452, rightBlueStarRowX)), shapes.rStar, blue],
  [rightRedStarUp, shapes.rStar, red],
  [rightRedStarDown, shapes.rStar, red],
  [rightGreenStarUp.concat(row(0.409, rightGreenStarRowX)), shapes.rStar, green],
  [rightGreenStarDown.concat(row(-0.409, rightGreenStarRowX)), shapes.rStar, green]
];
rightSeries.forEach(([pts, shape, color]) => drawPoints(gR, pts, xR, yR, shape, color));

piLabel(svg, 622, 44, "2", 5);
piLabel(svg, 979, 716, "1", 3);

const legR = svg.append("g").attr("transform", "translate(976,67)");
rightLegend.forEach((label, i) => {
  legR.append("path").attr("transform", `translate(0,${i * 22})`)
    .attr("d", i === 0 ? d3.symbol(d3.symbolCircle, 30)() : d3.symbol(d3.symbolStar, 22)())
    .attr("fill", i === 0 ? "none" : "#111").attr("stroke", i === 0 ? "#111" : "none").attr("stroke-width", 1.1);
  legR.append("text").attr("x", 14).attr("y", i * 22 + 5)
    .style("font-style", "italic").style("font-size", "14px").style("letter-spacing", "0.8px")
    .text(label);
});
</script>
</body>
</html>
